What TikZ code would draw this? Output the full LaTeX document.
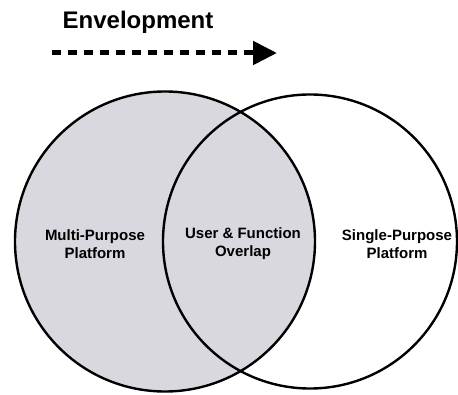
\documentclass[tikz,border=0pt]{standalone}
\usepackage{fontspec}
\setmainfont{Liberation Sans}
\usetikzlibrary{arrows.meta}
\definecolor{venngray}{RGB}{217,216,222}
\begin{document}
\begin{tikzpicture}[x=1pt,y=1pt,
  ring/.style={circle, draw=black, line width=2.4pt, inner sep=0pt, outer sep=0pt},
  lbl/.style={font=\bfseries\fontsize{15}{18}\selectfont, align=center},
  ttl/.style={font=\bfseries\fontsize{24}{28}\selectfont}]
\useasboundingbox (0,0) rectangle (458,394);
\node[ring, fill=venngray, minimum size=300pt] (multi) at (165,152.5) {};
\node[ring, minimum size=294pt] (single) at (310,152.5) {};
\node[lbl] (lmulti) at (95,150) {Multi-Purpose\\Platform};
\node[lbl] (lover) at (243,150) {User \& Function\\Overlap};
\node[lbl] (lsingle) at (397,150) {Single-Purpose\\Platform};
\node[ttl, anchor=base] (title) at (138,365) {Envelopment};
\coordinate (a0) at (52,341);
\coordinate (a1) at (277,341);
\draw[line width=5pt, dash pattern=on 9pt off 7pt, -{Triangle[length=24pt,width=23pt]}] (a0) -- (a1);
\end{tikzpicture}
\end{document}
